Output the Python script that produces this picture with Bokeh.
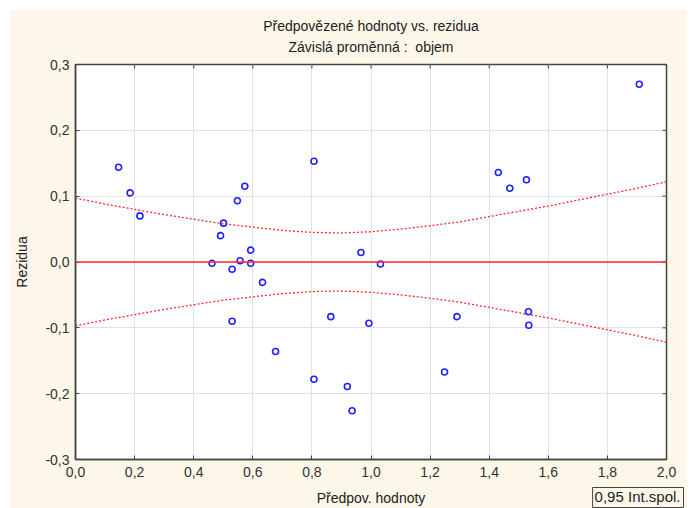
import math
from bokeh.plotting import figure
from bokeh.models import Range1d, FixedTicker, Span, Title
from bokeh.embed import file_html
from bokeh.resources import INLINE

# Predicted values and residuals
predicted = [0.146, 0.185, 0.218, 0.573, 0.548, 0.501, 0.491, 0.593, 0.462, 0.557,
             0.593, 0.530, 0.633, 0.530, 0.677, 0.807, 0.966, 1.032, 0.864, 0.993,
             1.291, 0.807, 1.249, 0.920, 0.936, 1.431, 1.908, 1.470, 1.526, 1.533,
             1.534]
residuals = [0.144, 0.105, 0.070, 0.115, 0.093, 0.059, 0.040, 0.018, -0.002, 0.002,
             -0.002, -0.011, -0.031, -0.090, -0.136, 0.153, 0.0145, -0.003, -0.083, -0.093,
             -0.083, -0.178, -0.167, -0.189, -0.226, 0.136, 0.270, 0.112, 0.125, -0.0755,
             -0.096]

# 0.95 confidence band
band_x = [0.0, 0.1, 0.2, 0.3, 0.4, 0.5, 0.6, 0.7, 0.8, 0.9, 1.0,
          1.1, 1.2, 1.3, 1.4, 1.5, 1.6, 1.7, 1.8, 1.9, 2.0]
band_upper = [0.097, 0.088, 0.080, 0.072, 0.065, 0.058, 0.053, 0.048, 0.045, 0.044, 0.046,
              0.050, 0.055, 0.061, 0.069, 0.077, 0.085, 0.094, 0.103, 0.112, 0.122]
band_lower = [-0.097, -0.088, -0.080, -0.072, -0.065, -0.058, -0.053, -0.048, -0.045, -0.044, -0.046,
              -0.050, -0.055, -0.061, -0.069, -0.077, -0.085, -0.094, -0.103, -0.112, -0.122]

x_ticks = [0.0, 0.2, 0.4, 0.6, 0.8, 1.0, 1.2, 1.4, 1.6, 1.8, 2.0]
x_tick_labels = ["0,0", "0,2", "0,4", "0,6", "0,8", "1,0", "1,2", "1,4", "1,6", "1,8", "2,0"]
y_ticks = [-0.3, -0.2, -0.1, 0.0, 0.1, 0.2, 0.3]
y_tick_labels = ["-0,3", "-0,2", "-0,1", "0,0", "0,1", "0,2", "0,3"]

title_main = "Předpovězené hodnoty vs. rezidua"
title_sub = "Závislá proměnná : \u00a0objem"
x_label = "Předpov. hodnoty"
y_label = "Rezidua"
legend_text = "0,95 Int.spol."

FONT = "Liberation Sans"
CREAM = "#fdf7e9"
BLUE = "#2020ff"
RED = "#ff2a2a"
DARK = "#444444"

x0, x1 = x_ticks[0], x_ticks[-1]
y0, y1 = y_ticks[0], y_ticks[-1]

p = figure(width=676, height=498, output_backend="svg", toolbar_location=None,
           x_range=Range1d(x0, x1), y_range=Range1d(y0, y1),
           min_border_left=62, min_border_right=21, min_border_top=54, min_border_bottom=47,
           background_fill_color="white", border_fill_color=CREAM,
           outline_line_color=DARK, outline_line_width=1.5)
p.margin = (10, 0, 0, 11)
p.styles = {"background-color": CREAM}

p.title.text = title_main
p.title.align = "center"
p.title.text_font = FONT
p.title.text_font_size = "14px"
p.title.text_font_style = "normal"
p.title.text_color = "#222222"
p.title.standoff = -14
p.add_layout(Title(text=title_sub, align="center", text_font=FONT, text_font_size="14px",
                   text_font_style="normal", text_color="#222222", standoff=20), "above")

for ax in (p.xaxis[0], p.yaxis[0]):
    ax.major_label_text_font = FONT
    ax.major_label_text_font_size = "14px"
    ax.major_label_text_color = "#333333"
    ax.axis_label_text_font = FONT
    ax.axis_label_text_font_size = "14px"
    ax.axis_label_text_font_style = "normal"
    ax.axis_label_text_color = "#222222"
    ax.axis_line_color = DARK
    ax.axis_line_width = 1.5
    ax.major_tick_in = 4
    ax.major_tick_out = 0
    ax.major_tick_line_color = DARK
    ax.minor_tick_line_color = None

p.xaxis.ticker = FixedTicker(ticks=x_ticks)
p.xaxis.major_label_overrides = dict(zip(x_ticks, x_tick_labels))
p.yaxis.ticker = FixedTicker(ticks=y_ticks)
p.yaxis.major_label_overrides = dict(zip(y_ticks, y_tick_labels))
p.xaxis.axis_label = x_label
p.yaxis.axis_label = y_label
p.xaxis.major_label_standoff = 7
p.xaxis.axis_label_standoff = 10
p.yaxis.major_label_standoff = 6
p.yaxis.axis_label_standoff = 12

p.xgrid.ticker = FixedTicker(ticks=x_ticks)
p.ygrid.ticker = FixedTicker(ticks=y_ticks)
p.grid.grid_line_color = "#e2e2e2"
p.grid.grid_line_width = 1

# inward tick marks on the top and right frame edges (outer half is clipped by the frame)
p.scatter(x_ticks, [y1] * len(x_ticks), marker="dash", angle=math.pi / 2, size=8,
          line_color=DARK, line_width=1)
p.scatter([x1] * len(y_ticks), y_ticks, marker="dash", size=8,
          line_color=DARK, line_width=1)

p.add_layout(Span(location=0, dimension="width", line_color=RED, line_width=1.5))

p.line(band_x, band_upper, line_color=RED, line_width=1.3, line_dash="2 2")
p.line(band_x, band_lower, line_color=RED, line_width=1.3, line_dash="2 2")

p.scatter(predicted, residuals, marker="circle", size=6, fill_color=None,
          line_color=BLUE, line_width=1.6)

p.add_layout(Title(text=legend_text, align="right", vertical_align="top", offset=-17,
                   standoff=-42, text_font=FONT, text_font_size="15px",
                   text_font_style="normal", text_color="#222222",
                   border_line_color=DARK, border_line_width=1,
                   background_fill_color=CREAM, padding=(2, 3, 0, 3)), "below")

open("out.html", "w").write(file_html(p, INLINE))
